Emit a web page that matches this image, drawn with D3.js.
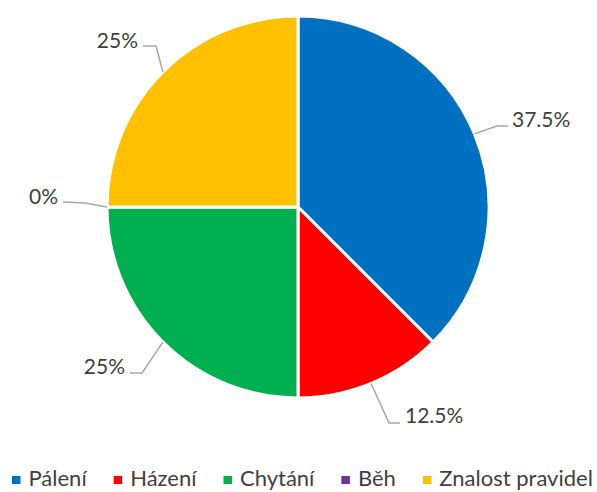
<!DOCTYPE html>
<html>
<head>
<meta charset="utf-8">
<script src="https://cdn.jsdelivr.net/npm/d3@7"></script>
<style>
  html, body { margin: 0; padding: 0; background: #fff; }
  svg { display: block; }
  text { font-family: Lato, "Open Sans", sans-serif; fill: #404040; }
</style>
</head>
<body>
<svg id="chart" width="597" height="492"></svg>
<script>
// ---- data ----
const categories = ["Pálení", "Házení", "Chytání", "Běh", "Znalost pravidel"];
const values = [37.5, 12.5, 25, 0, 25];
const labels = ["37.5%", "12.5%", "25%", "0%", "25%"];
const colors = ["#0070C0", "#FF0000", "#00B050", "#7030A0", "#FFC000"];

// ---- layout ----
const W = 597, H = 492;
const cx = 298, cy = 207, R = 191;
// leader-line geometry per label: elbow point, end point, text anchor
const labelLayout = [
  { elbow: [497, 126], end: [508, 126], tx: 512, ty: 127, anchor: "start" },
  { elbow: [389, 423], end: [400, 423], tx: 405, ty: 423, anchor: "start" },
  { elbow: [142, 373], end: [130, 373], tx: 125, ty: 374, anchor: "end" },
  { elbow: [85, 203],  end: [63, 202],  tx: 58,  ty: 204, anchor: "end" },
  { elbow: [156, 46],  end: [143, 46],  tx: 138, ty: 48,  anchor: "end" }
];

const svg = d3.select("#chart");
const g = svg.append("g").attr("transform", `translate(${cx},${cy})`);

const pie = d3.pie().sort(null).value(d => d).startAngle(0).endAngle(2 * Math.PI);
const arcs = pie(values);
const arc = d3.arc().innerRadius(0).outerRadius(R);

g.selectAll("path.slice")
  .data(arcs)
  .join("path")
  .attr("class", "slice")
  .attr("d", arc)
  .attr("fill", (d, i) => colors[i])
  .attr("stroke", "#fff")
  .attr("stroke-width", 3)
  .attr("stroke-linejoin", "round");

// leader lines + labels
arcs.forEach((d, i) => {
  const mid = (d.startAngle + d.endAngle) / 2;
  const sx = cx + R * Math.sin(mid);
  const sy = cy - R * Math.cos(mid);
  const L = labelLayout[i];
  svg.append("polyline")
    .attr("points", [[sx, sy], L.elbow, L.end].map(p => p.join(",")).join(" "))
    .attr("fill", "none")
    .attr("stroke", "#A6A6A6")
    .attr("stroke-width", 1.5);
  svg.append("text")
    .attr("x", L.tx)
    .attr("y", L.ty)
    .attr("text-anchor", L.anchor)
    .style("font-size", "21px")
    .text(labels[i]);
});

// legend
const legend = svg.append("g").attr("class", "legend");
let x = 12;
const ly = 486;
categories.forEach((c, i) => {
  legend.append("rect")
    .attr("x", x).attr("y", ly - 10)
    .attr("width", 8.5).attr("height", 8)
    .attr("fill", colors[i]);
  const t = legend.append("text")
    .attr("x", x + 16.5).attr("y", ly)
    .style("font-size", "22px")
    .text(c);
  x = x + 16.5 + t.node().getComputedTextLength() + 27;
});
</script>
</body>
</html>
